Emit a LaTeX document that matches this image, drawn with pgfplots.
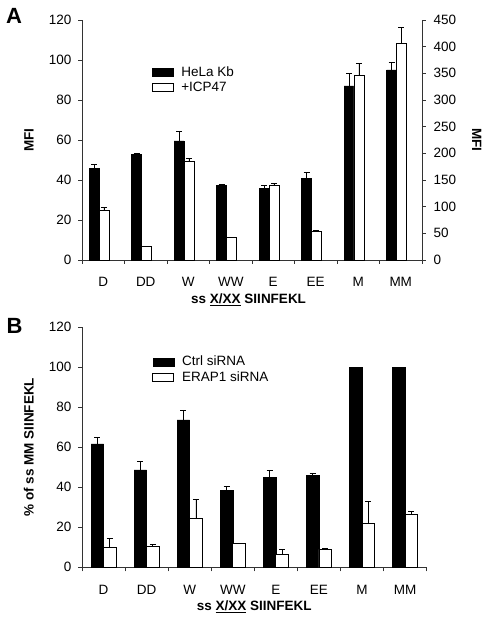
\documentclass[border=0pt]{standalone}
\usepackage{fontspec}
\setmainfont{Liberation Sans}
\usepackage{pgfplots}
\pgfplotsset{compat=1.18}
\usepackage{pgfplotstable}

\pgfplotstableread{
x y e
0 45.8 2.0
1 52.8 0.3
2 59.5 4.8
3 37.4 0.2
4 35.8 1.6
5 40.8 2.9
6 87.0 6.3
7 95.0 3.7
}\hela
\pgfplotstableread{
x y e
0 93 5.8
1 25 0.5
2 185 5.6
3 42 1.0
4 139 5
5 53 3
6 345.6 23.2
7 406 30
}\icp
\pgfplotstableread{
x y e
0 61.7 3.3
1 48.7 4.1
2 73.7 4.8
3 38.5 1.8
4 44.8 3.7
5 45.8 1.2
6 100 0
7 100 0
}\ctrl
\pgfplotstableread{
x y e
0 10 4.3
1 10.3 0.9
2 24.5 9.5
3 11.7 0.3
4 6.2 2.8
5 9 0.3
6 22 10.7
7 26.5 1.5
}\erap

\newcommand{\tfont}{\fontsize{13.5}{16}\selectfont}
\pgfplotsset{
  base/.style={
    scale only axis, height=240pt,
    xmin=-0.5, xmax=7.5,
    tick align=outside,
    major tick length=4pt, minor tick length=4pt,
    axis line style={black!80, line width=0.9pt},
    every tick/.style={black!80, line width=0.9pt},
    tick label style={font=\tfont},
    label style={font=\tfont\bfseries},
    /pgf/number format/assume math mode=true,
    clip=false,
  },
  xbase/.style={
    xtick={0,...,7}, xticklabels={D,DD,W,WW,E,EE,M,MM},
    major x tick style={draw=none},
    minor xtick={-0.5,0.5,...,7.5},
    xticklabel style={yshift=-10pt},
    axis x line*=bottom,
  },
  errs/.style={
    error bars/y dir=plus, error bars/y explicit,
    error bars/error bar style={line width=0.9pt, black},
    error bars/error mark options={rotate=90, mark size=3pt, line width=0.9pt, black},
  },
  blackbar/.style={ybar, bar shift=0pt, fill=black, draw=black, line width=0.6pt, errs,
    legend image code/.code={\draw[black,fill=black] (0pt,-4pt) rectangle (21pt,4pt);}},
  whitebar/.style={ybar, bar shift=0pt, fill=white, draw=black, line width=0.8pt, errs,
    legend image code/.code={\draw[black,fill=white,line width=0.8pt] (0pt,-4pt) rectangle (21pt,4pt);}},
  leg/.style={legend style={at={(axis description cs:#1)}, anchor=north west, draw=none, fill=none,
    font=\tfont, row sep=0pt, /tikz/every odd column/.append style={column sep=6pt}},
    legend cell align=left},
}

\begin{document}
\begin{tikzpicture}[x=1pt,y=1pt]
\useasboundingbox (0,0) rectangle (487,620);

% Panel A left axis
\begin{axis}[base, xbase, at={(82pt,360pt)}, anchor=south west, width=340pt,
  ymin=0, ymax=120, ytick={0,20,...,120}, axis y line*=left,
  yticklabel style={xshift=-3pt},
  ylabel={MFI}, ylabel style={at={(axis description cs:-0.156,0.5)}, anchor=center},
  xlabel={ss \underline{X/XX} SIINFEKL}, xlabel style={at={(axis description cs:0.49,-0.167)}, anchor=center},
  leg={0.195,0.822}]
\addplot[blackbar, bar width=0.235] table[x expr=\thisrow{x}-0.2175,y=y,y error=e] {\hela};
\addlegendentry{HeLa Kb}
\addlegendimage{whitebar}
\addlegendentry{+ICP47}
\end{axis}

% Panel A right axis
\begin{axis}[base, at={(82pt,360pt)}, anchor=south west, width=340pt,
  axis x line=none, axis y line*=right,
  ymin=0, ymax=450, ytick={0,50,...,450},
  yticklabel style={xshift=4pt},
  ylabel={MFI}, ylabel style={at={(axis description cs:1.161,0.5)}, anchor=center, rotate=180}]
\addplot[whitebar, bar width=0.235] table[x expr=\thisrow{x}+0.0175,y=y,y error=e] {\icp};
\end{axis}

% Panel B
\begin{axis}[base, xbase, at={(82pt,52.7pt)}, anchor=south west, width=344.7pt,
  ymin=0, ymax=120, ytick={0,20,...,120}, axis y line*=left,
  yticklabel style={xshift=-3pt},
  ylabel={\% of ss MM SIINFEKL}, ylabel style={at={(axis description cs:-0.154,0.5)}, anchor=center},
  xlabel={ss \underline{X/XX} SIINFEKL}, xlabel style={at={(axis description cs:0.5,-0.164)}, anchor=center},
  leg={0.195,0.897}]
\addplot[blackbar, bar width=0.29] table[x expr=\thisrow{x}-0.145,y=y,y error=e] {\ctrl};
\addlegendentry{Ctrl siRNA}
\addplot[whitebar, bar width=0.29] table[x expr=\thisrow{x}+0.145,y=y,y error=e] {\erap};
\addlegendentry{ERAP1 siRNA}
\end{axis}

\node[font=\fontsize{22}{24}\selectfont\bfseries] at (14,604) {A};
\node[font=\fontsize{22}{24}\selectfont\bfseries] at (14.5,294.5) {B};
\end{tikzpicture}
\end{document}
